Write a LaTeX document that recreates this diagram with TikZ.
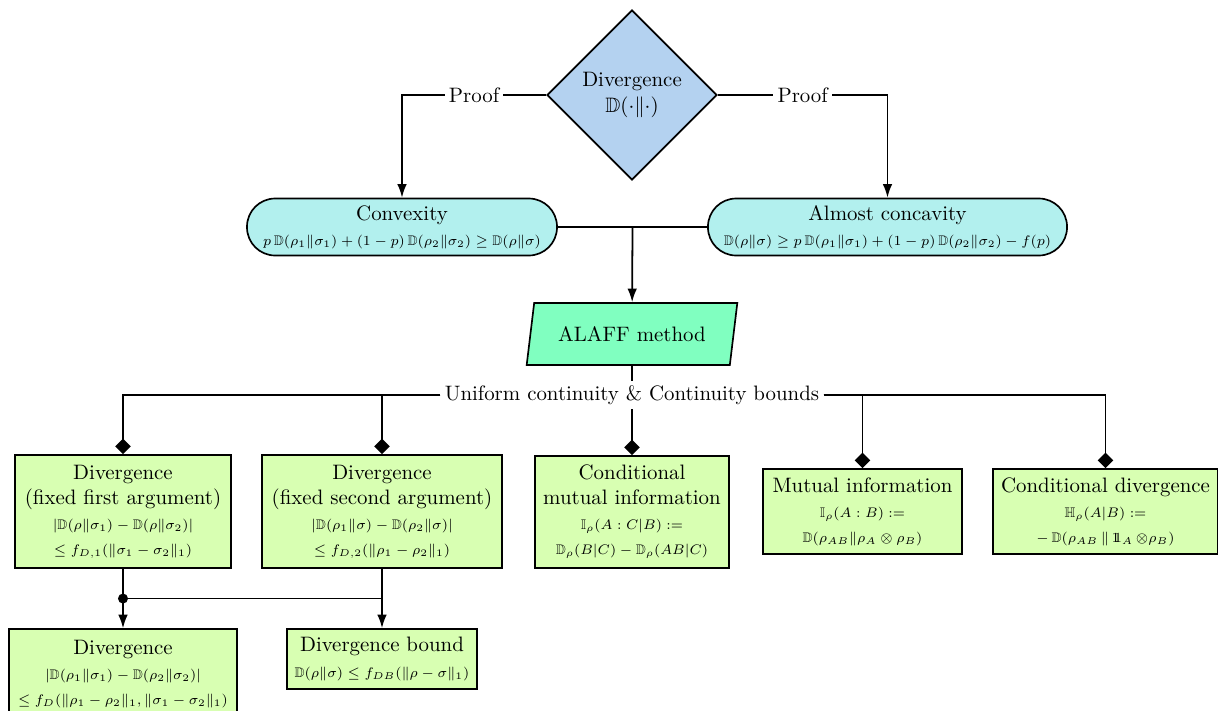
\documentclass[tikz,border=0pt]{standalone}
\usepackage{amsmath,amssymb}
\usepackage{graphicx}
\usepackage{xcolor}
\usepackage{tikz}
\usetikzlibrary{calc,shapes.geometric,arrows.meta}
\newcommand{\idop}{\mathrm{1\!\!1}}
\newcommand{\fml}[1]{\scalebox{0.95}{\scriptsize$#1$}}
\definecolor{divblue}{HTML}{B4D2F0}
\definecolor{propcyan}{HTML}{B2F0EE}
\definecolor{methgreen}{HTML}{80FFC0}
\definecolor{boxgreen}{HTML}{D8FFB2}
\tikzset{
  link/.style={line width=0.85pt},
  arr/.style={link, -{Latex[length=6.5pt,width=4.6pt]}},
  dia/.style={link, -{Diamond[length=7.5pt,width=7.5pt]}},
  divnode/.style={diamond, draw, line width=0.8pt, fill=divblue, inner sep=0pt,
    minimum size=81.4pt, align=center},
  propnode/.style={rectangle, rounded corners=13.5pt, draw, line width=0.8pt,
    fill=propcyan, inner sep=1pt, minimum height=27.3pt, align=center},
  methnode/.style={trapezium, trapezium left angle=78, trapezium right angle=102,
    trapezium stretches=true, draw, line width=0.8pt, fill=methgreen,
    minimum width=101pt, minimum height=29.7pt},
  resnode/.style={rectangle, draw, line width=0.8pt, fill=boxgreen, align=center},
  lbl/.style={fill=white, inner sep=2pt}
}

\begin{document}
\begin{tikzpicture}[x=0.479pt, y=-0.479pt]
  \useasboundingbox (0,0) rectangle (1218,711);

  % top
  \node[divnode] (div) at (632,95) {Divergence\\$\mathbb{D}(\cdot\|\cdot)$};
  \node[propnode, minimum width=148.5pt] (conv) at (402,227)
    {Convexity\\\fml{p\,\mathbb{D}(\rho_1\|\sigma_1)+(1-p)\,\mathbb{D}(\rho_2\|\sigma_2)\geq\mathbb{D}(\rho\|\sigma)}};
  \node[propnode, minimum width=172pt] (acon) at (887.5,227)
    {Almost concavity\\\fml{\mathbb{D}(\rho\|\sigma)\geq p\,\mathbb{D}(\rho_1\|\sigma_1)+(1-p)\,\mathbb{D}(\rho_2\|\sigma_2)-f(p)}};
  \node[methnode] (alaff) at (632,334) {ALAFF method};
  \node[lbl] (uc) at (632,395) {Uniform continuity \& Continuity bounds};

  % results
  \node[resnode, minimum width=103.5pt, minimum height=54.1pt] (fix1) at (123,511.5)
    {Divergence\\(fixed first argument)\\
     \fml{|\mathbb{D}(\rho\|\sigma_1)-\mathbb{D}(\rho\|\sigma_2)|}\\
     \fml{\leq f_{D,1}(\|\sigma_1-\sigma_2\|_1)}};
  \node[resnode, minimum width=115pt, minimum height=54.1pt] (fix2) at (382,511.5)
    {Divergence\\(fixed second argument)\\
     \fml{|\mathbb{D}(\rho_1\|\sigma)-\mathbb{D}(\rho_2\|\sigma)|}\\
     \fml{\leq f_{D,2}(\|\rho_1-\rho_2\|_1)}};
  \node[resnode, minimum width=92.9pt, minimum height=53.6pt] (cmi) at (632,512)
    {Conditional\\mutual information\\
     \fml{\mathbb{I}_\rho(A:C|B):=}\\
     \fml{\mathbb{D}_\rho(B|C)-\mathbb{D}_\rho(AB|C)}};
  \node[resnode, minimum width=95.3pt, minimum height=40.7pt] (mi) at (862.5,511.5)
    {Mutual information\\
     \fml{\mathbb{I}_\rho(A:B):=}\\
     \fml{\mathbb{D}(\rho_{AB}\|\rho_A\otimes\rho_B)}};
  \node[resnode, minimum width=107.8pt, minimum height=40.7pt] (cdiv) at (1105.5,511.5)
    {Conditional divergence\\
     \fml{\mathbb{H}_\rho(A|B):=}\\
     \fml{-\,\mathbb{D}(\rho_{AB}\,\|\,\idop_A\,{\otimes}\rho_B)}};
  \node[resnode, minimum width=109.2pt, minimum height=43pt] (full) at (123,674)
    {Divergence\\
     \fml{|\mathbb{D}(\rho_1\|\sigma_1)-\mathbb{D}(\rho_2\|\sigma_2)|}\\
     \fml{\leq f_D(\|\rho_1-\rho_2\|_1,\|\sigma_1-\sigma_2\|_1)}};
  \node[resnode, minimum width=91pt, minimum height=28.7pt] (bound) at (382,659)
    {Divergence bound\\
     \fml{\mathbb{D}(\rho\|\sigma)\leq f_{DB}(\|\rho-\sigma\|_1)}};

  % connectors
  \draw[arr] (div.west) -| node[lbl, pos=0.25] {Proof} (conv);
  \draw[arr] (div.east) -| node[lbl, pos=0.25] {Proof} (acon);
  \draw[link] (conv) -- (acon);
  \coordinate (join) at ($(conv.east)!0.5!(acon.west)$);
  \draw[arr] (join) -- (alaff);
  \draw[link] (alaff) -- (uc);
  \draw[dia] (uc) -| (fix1);
  \draw[dia] (uc) -| (fix2);
  \draw[dia] (uc) -- (cmi);
  \draw[dia] (uc) -| (mi);
  \draw[dia] (uc) -| (cdiv);

  \coordinate (split) at ($(fix1.south)!0.5!(full.north)$);
  \draw[arr] (fix1) -- (full);
  \draw[arr] (fix2) -- (bound);
  \draw[link] (split) -- (split -| bound.north);
  \fill (split) circle (2.4pt);
\end{tikzpicture}
\end{document}
